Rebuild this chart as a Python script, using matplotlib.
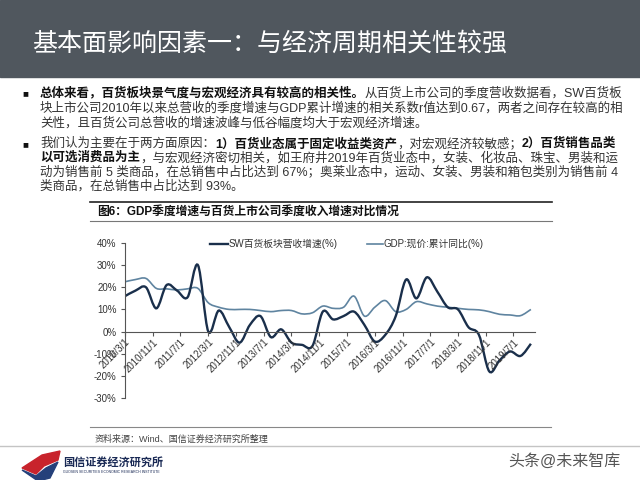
import numpy as np
import pandas as pd
import matplotlib
matplotlib.use("Agg")
import matplotlib.pyplot as plt
import matplotlib.dates as mdates
from matplotlib.path import Path
from matplotlib.patches import PathPatch, Rectangle, Polygon
from matplotlib.lines import Line2D

plt.rcParams['font.family'] = ['Liberation Sans', 'Noto Sans CJK SC', 'DejaVu Sans']

# quarterly data, %
quarters = pd.date_range("2010-03-01", "2019-12-01", freq="3MS")
sw_growth = [16, 18.5, 20, 10.5, 21, 18.5, 15.5, 30,
             0, 9.5, 2, -5, 3, 7, -2.5, 1,
             -5, -6, -6.5, 9, 5.5, 7, 9, 3,
             -4.5, -1.5, 7, 23.5, 15, 24.5, 18, 11,
             10, 2, -1.5, -18, -13, -9, -11, -5.5]
gdp_growth = [22.5, 23.5, 24, 19.5, 19.3, 18.8, 19.3, 19.5,
              13, 11, 10, 10, 10, 9.5, 9, 9.5,
              9.5, 8, 8.5, 11.5, 10.5, 11, 16, 7,
              11, 14, 9, 10, 13.5, 12.5, 11.5, 11,
              10.5, 10, 9.8, 9, 7.8, 7.5, 7.2, 10]
tick_dates = pd.date_range("2010-03-01", "2019-07-01", freq="8MS")
tick_labels = [f"{d.year}/{d.month}/1" for d in tick_dates]
y_ticks = [-30, -20, -10, 0, 10, 20, 30, 40]

sw_name = "SW百货板块营收增速(%)"
gdp_name = "GDP:现价:累计同比(%)"

title = "基本面影响因素一：与经济周期相关性较强"
chart_title = "图6：GDP季度增速与百货上市公司季度收入增速对比情况"
source = "资料来源：Wind、国信证券经济研究所整理"

para1 = [
    [("总体来看，百货板块景气度与宏观经济具有较高的相关性。", True),
     ("从百货上市公司的季度营收数据看，SW百货板", False)],
    [("块上市公司2010年以来总营收的季度增速与GDP累计增速的相关系数r值达到0.67，两者之间存在较高的相", False)],
    [("关性，且百货公司总营收的增速波峰与低谷幅度均大于宏观经济增速。", False)],
]
para2 = [
    [("我们认为主要在于两方面原因：", False), ("1）百货业态属于固定收益类资产", True),
     ("，对宏观经济较敏感；", False), ("2）百货销售品类", True)],
    [("以可选消费品为主", True),
     ("，与宏观经济密切相关，如王府井2019年百货业态中，女装、化妆品、珠宝、男装和运", False)],
    [("动为销售前 5 类商品，在总销售中占比达到 67%；奥莱业态中，运动、女装、男装和箱包类别为销售前 4", False)],
    [("类商品，在总销售中占比达到 93%。", False)],
]

W, H = 640, 480
fig = plt.figure(figsize=(6.4, 4.8), dpi=100)
fig.patch.set_facecolor("white")


def fx(x):
    return x / W


def fy(y):
    return 1 - y / H


def hline(y, x0, x1, color, lw):
    fig.add_artist(Line2D([fx(x0), fx(x1)], [fy(y), fy(y)], color=color, lw=lw,
                          transform=fig.transFigure))


# header band
fig.patches.append(Rectangle((0, fy(77)), 1, 77 / H, transform=fig.transFigure,
                             color="#50575e", zorder=0))
fig.text(fx(32), fy(44), title, fontsize=18, color="white", va="center", ha="left")

renderer = fig.canvas.get_renderer()


def write_line(x, y, parts, size=9):
    for s, bold in parts:
        t = fig.text(fx(x), fy(y), s, fontsize=size,
                     fontweight="bold" if bold else "normal",
                     color="#111111" if bold else "#333333", va="center", ha="left")
        x += t.get_window_extent(renderer).width


y1 = [93, 108, 123]
y2 = [144, 158, 172, 186]
fig.text(fx(22), fy(y1[0]), "■", fontsize=7, color="#111111", va="center")
fig.text(fx(22), fy(y2[0]), "■", fontsize=7, color="#111111", va="center")
for yy, parts in zip(y1, para1):
    write_line(40, yy, parts)
for yy, parts in zip(y2, para2):
    write_line(40, yy, parts)

# chart title bar
hline(202, 90, 552, "#222222", 1.2)
hline(221, 90, 552, "#777777", 0.8)
fig.text(fx(97), fy(212), chart_title, fontsize=8.5, fontweight="bold",
         color="#111111", va="center")

# chart
ax = fig.add_axes([fx(125), fy(398), (535 - 125) / W, (398 - 243) / H])
x = mdates.date2num(quarters)


def smooth_path(xs, ys):
    pts = np.column_stack([xs, ys])
    n = len(pts)
    verts = [pts[0]]
    codes = [Path.MOVETO]
    for i in range(n - 1):
        p0 = pts[max(i - 1, 0)]
        p1 = pts[i]
        p2 = pts[i + 1]
        p3 = pts[min(i + 2, n - 1)]
        verts += [p1 + (p2 - p0) / 6, p2 - (p3 - p1) / 6, p2]
        codes += [Path.CURVE4] * 3
    return Path(verts, codes)


sw_color = "#1a2f4b"
gdp_color = "#5f84a0"
ax.add_patch(PathPatch(smooth_path(x, gdp_growth), fill=False, edgecolor=gdp_color, lw=1.2))
ax.add_patch(PathPatch(smooth_path(x, sw_growth), fill=False, edgecolor=sw_color, lw=1.7))

ax.spines["bottom"].set_position(("data", 0))
ax.spines["top"].set_visible(False)
ax.spines["right"].set_visible(False)
ax.spines["left"].set_color("#555555")
ax.spines["bottom"].set_color("#555555")
ax.set_xlim(mdates.date2num(pd.Timestamp("2010-03-01")), mdates.date2num(pd.Timestamp("2020-01-06")))
ax.set_ylim(-30, 40)
ax.set_yticks(y_ticks)
ax.set_yticklabels([f"{v}%" for v in y_ticks])
ax.set_xticks(mdates.date2num(tick_dates))
ax.set_xticklabels(tick_labels)
ax.tick_params(axis="x", length=3, pad=1, labelsize=7, colors="#555555", labelcolor="#333333")
ax.tick_params(axis="y", length=3, pad=3, labelsize=7, colors="#555555", labelcolor="#333333")
for lab in ax.get_xticklabels():
    lab.set_rotation(45)
    lab.set_ha("right")
    lab.set_va("top")
    lab.set_rotation_mode("anchor")
ax.set_facecolor("none")

# legend
hline(244, 210, 228, sw_color, 1.7)
fig.text(fx(229), fy(244), sw_name, fontsize=7, color="#333333", va="center")
hline(244, 367, 383, gdp_color, 1.2)
fig.text(fx(384), fy(244), gdp_name, fontsize=7, color="#333333", va="center")

# source
hline(427, 90, 551, "#888888", 0.8)
fig.text(fx(95), fy(439), source, fontsize=6.5, color="#444444", va="center")

# footer
hline(446, 0, 640, "#c4c4c4", 1.0)
fig.patches.append(Polygon([(fx(22), fy(468)), (fx(42), fy(455)), (fx(60), fy(451)),
                            (fx(58), fy(460)), (fx(44), fy(466)), (fx(36), fy(474))],
                           closed=True, transform=fig.transFigure, color="#c8232c"))
fig.patches.append(Polygon([(fx(22), fy(470)), (fx(36), fy(476)), (fx(46), fy(468)),
                            (fx(58), fy(462)), (fx(50), fy(478)), (fx(38), fy(481))],
                           closed=True, transform=fig.transFigure, color="#25407a"))
fig.text(fx(63), fy(462), "国信证券经济研究所", fontsize=8, fontweight="bold",
         color="#1a2a55", va="center")
fig.text(fx(63), fy(472), "GUOSEN SECURITIES ECONOMIC RESEARCH INSTITUTE", fontsize=2.5,
         color="#1a2a55", va="center")
fig.text(fx(620), fy(461), "头条@未来智库", fontsize=11.5, color="#555555",
         va="center", ha="right", fontweight="light")

fig.savefig("out.png", dpi=100)
